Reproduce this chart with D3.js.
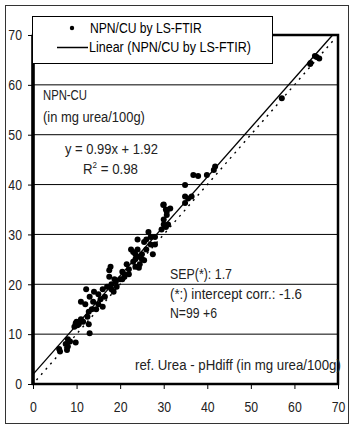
<!DOCTYPE html>
<html>
<head>
<meta charset="utf-8">
<script src="https://cdn.jsdelivr.net/npm/d3@7"></script>
<style>
  body { margin: 0; background: #fff; }
  text { font-family: "Liberation Sans", Arial, sans-serif; }
</style>
</head>
<body>
<div id="chart"></div>
<script>
// reference values (x) and LS-FTIR predictions (y), mg urea/100g
const refX = [
  6, 6.2, 7.5, 7.8, 8, 8.5, 9.8, 8,
  9.5, 10, 10.5, 11, 11.5, 10.2, 9.8,
  11, 12, 12.2, 12.5, 12.8, 13, 12.8, 13.5, 13.8, 13,
  14, 14.5, 15, 15, 15.5, 16, 16, 16.5,
  17, 17.5, 17.8, 17.5, 18, 18.5, 18, 19, 19.2, 18.7,
  20, 20.5, 21, 21, 21.5, 20.5, 22, 22,
  22.5, 23, 23, 23.5, 23.5, 24, 24, 24, 24.5, 25, 25, 23.5, 24.3,
  25.5, 26, 26, 26.5, 27, 27, 27.5, 28, 28, 25.5,
  30, 30.5, 30, 31, 30, 30.5, 29.5, 31.5,
  29.9, 30.7, 30.7, 34.9, 34.9, 35.6, 36.4, 36.8, 37.9, 39.9, 41.8, 41.5, 34.9,
  57.1, 63.7, 63.6, 64.7, 65.7, 65.1
];
const ftirY = [
  7, 6.5, 8, 6.8, 9, 8.5, 8.3, 7.5,
  11.5, 12.5, 12, 13, 12.5, 11.8, 12.2,
  16.5, 16, 19, 13.5, 12, 10.2, 14.5, 15, 16.5, 17.5,
  18.5, 15, 18, 16, 17, 15.5, 19, 17.5,
  19.5, 21.5, 23.5, 22.8, 19, 18.5, 20, 20.5, 19.5, 21,
  21, 22.5, 21.5, 22, 24, 21, 23, 22,
  27, 26.5, 24.5, 25, 23.5, 25.5, 27, 29, 24, 26, 25, 26, 23.3,
  28.5, 29, 27, 30.5, 28, 29.5, 26, 29.5, 28, 24.8,
  32, 31.5, 33, 32, 36, 35, 31, 35.2,
  35.9, 34.6, 33.9, 39.9, 37.6, 37.2, 37.6, 41.9, 41.7, 41.9, 43.6, 42.9, 36.3,
  57.3, 64.4, 64.2, 65.8, 65.3, 65.6
];
const xTicks = [0, 10, 20, 30, 40, 50, 60, 70];
const yTicks = [0, 10, 20, 30, 40, 50, 60, 70];
const slope = 0.99, intercept = 1.92;

const W = 355, H = 433;
const svg = d3.select('#chart').append('svg').attr('width', W).attr('height', H);

// squeeze a text horizontally to the given width (narrow font look)
function narrow(sel, width) {
  sel.each(function () {
    const t = d3.select(this);
    const w = this.getBBox().width;
    const x0 = +t.attr('x') || 0;
    const s = width ? width / w : 0.82;
    t.attr('transform', 'translate(' + x0 + ',0) scale(' + s + ',1) translate(' + (-x0) + ',0)');
  });
}

// outer frame
svg.append('rect').attr('x', 5.5).attr('y', 5.5).attr('width', 343).attr('height', 418)
  .attr('fill', 'none').attr('stroke', '#333').attr('stroke-width', 1);

const x = d3.scaleLinear().domain([0, 70]).range([33, 338]);
const y = d3.scaleLinear().domain([0, 70]).range([384, 35]);

// gridlines
svg.append('g').selectAll('line').data(yTicks.slice(1, -1)).join('line')
  .attr('x1', x(0)).attr('x2', x(70)).attr('y1', d => y(d)).attr('y2', d => y(d))
  .attr('stroke', '#000').attr('stroke-width', 1);

// plot border
svg.append('rect').attr('x', x(0)).attr('y', y(70)).attr('width', x(70) - x(0)).attr('height', y(0) - y(70))
  .attr('fill', 'none').attr('stroke', '#000').attr('stroke-width', 2.5);
svg.append('line').attr('x1', x(0)).attr('x2', x(0)).attr('y1', y(70)).attr('y2', y(0))
  .attr('stroke', '#000').attr('stroke-width', 3.5);

// axes
const xAxis = svg.append('g').attr('transform', 'translate(0,' + y(0) + ')')
  .call(d3.axisBottom(x).tickValues(xTicks).tickSize(5).tickPadding(12));
const yAxis = svg.append('g').attr('transform', 'translate(' + x(0) + ',0)')
  .call(d3.axisLeft(y).tickValues(yTicks).tickSize(5).tickPadding(6));
[xAxis, yAxis].forEach(a => {
  a.select('.domain').remove();
  a.selectAll('line').attr('stroke', '#000');
  a.selectAll('text').attr('font-size', 15).attr('fill', '#222')
    .style('font-family', '"Liberation Sans", Arial, sans-serif');
  narrow(a.selectAll('text'), 0);
});

// 1:1 line (dotted) and regression line
svg.append('line').attr('x1', x(0.8)).attr('y1', y(0.8)).attr('x2', x(69)).attr('y2', y(69))
  .attr('stroke', '#000').attr('stroke-width', 1.4).attr('stroke-dasharray', '2,5');
svg.append('line').attr('x1', x(0)).attr('y1', y(intercept))
  .attr('x2', x((70 - intercept) / slope)).attr('y2', y(70))
  .attr('stroke', '#000').attr('stroke-width', 1.3);

// points
svg.append('g').selectAll('circle').data(refX).join('circle')
  .attr('cx', d => x(d)).attr('cy', (d, i) => y(ftirY[i])).attr('r', 3).attr('fill', '#000');

// legend
const lg = svg.append('g');
lg.append('rect').attr('x', 32.5).attr('y', 16.5).attr('width', 240).attr('height', 47)
  .attr('fill', '#fff').attr('stroke', '#000').attr('stroke-width', 1);
lg.append('circle').attr('cx', 72).attr('cy', 28).attr('r', 2.2).attr('fill', '#000');
lg.append('line').attr('x1', 57).attr('x2', 88).attr('y1', 47.5).attr('y2', 47.5)
  .attr('stroke', '#000').attr('stroke-width', 1.5);
lg.append('text').attr('x', 90).attr('y', 33).attr('font-size', 15).text('NPN/CU by LS-FTIR')
  .call(narrow, 112);
lg.append('text').attr('x', 89).attr('y', 52).attr('font-size', 15).text('Linear (NPN/CU by LS-FTIR)')
  .call(narrow, 162);

// annotations
const notes = [
  { t: 'NPN-CU', x: 43, y: 100, w: 44 },
  { t: '(in mg urea/100g)', x: 43, y: 122, w: 102 },
  { t: 'y = 0.99x + 1.92', x: 65, y: 154, w: 93 },
  { t: 'SEP(*): 1.7', x: 170, y: 279, w: 62 },
  { t: '(*:) intercept corr.: -1.6', x: 170, y: 299, w: 132 },
  { t: 'N=99 +6', x: 170, y: 318, w: 47 },
  { t: 'ref. Urea - pHdiff (in mg urea/100g)', x: 135, y: 370, w: 206 }
];
svg.append('g').selectAll('text').data(notes).join('text')
  .attr('x', d => d.x).attr('y', d => d.y)
  .attr('font-size', 15).attr('fill', '#222').text(d => d.t)
  .each(function (d) { narrow(d3.select(this), d.w); });
const r2 = svg.append('text').attr('x', 83).attr('y', 174).attr('font-size', 15).attr('fill', '#222');
r2.append('tspan').text('R');
r2.append('tspan').attr('font-size', 9).attr('dy', -6).text('2');
r2.append('tspan').attr('dy', 6).text(' = 0.98');
narrow(r2, 55);
</script>
</body>
</html>
